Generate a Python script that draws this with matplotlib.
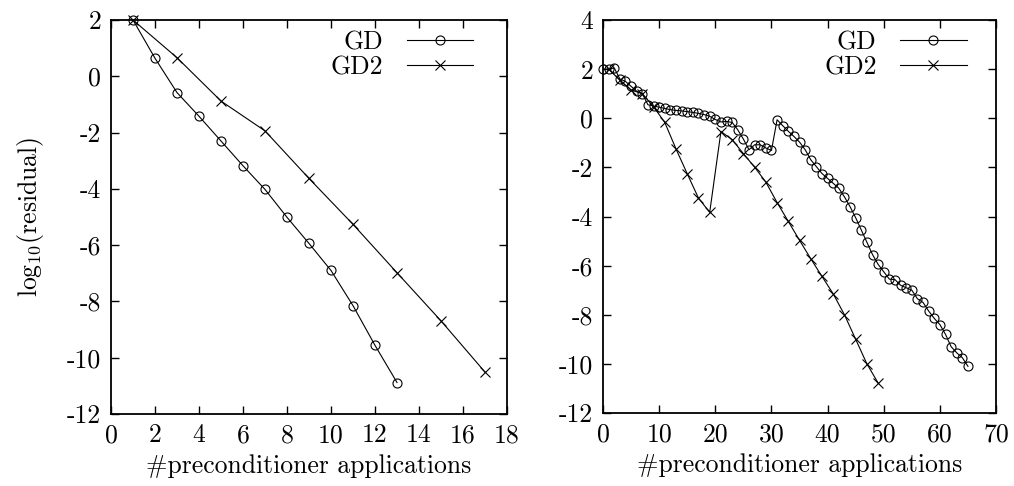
import numpy as np
import matplotlib
matplotlib.use('Agg')
import matplotlib.pyplot as plt

plt.rcParams['font.family'] = 'cmr10'
plt.rcParams['mathtext.fontset'] = 'cm'
plt.rcParams['axes.unicode_minus'] = False
plt.rcParams['axes.formatter.use_mathtext'] = False

# left panel
gd_x_l = list(range(1, 14))
gd_y_l = [2.0, 0.64, -0.58, -1.42, -2.30, -3.18, -4.02, -5.01, -5.94, -6.90, -8.15, -9.56, -10.88]
gd2_x_l = [1, 3, 5, 7, 9, 11, 13, 15, 17]
gd2_y_l = [2.0, 0.66, -0.88, -1.94, -3.63, -5.26, -6.98, -8.69, -10.51]

# right panel
gd_x_r = list(range(0, 66))
gd_y_r = [2.0, 2.0, 2.05, 1.6, 1.5, 1.3, 1.1, 1.0, 0.55, 0.5,
          0.45, 0.4, 0.35, 0.32, 0.3, 0.27, 0.24, 0.2, 0.15, 0.08,
          -0.05, -0.15, -0.13, -0.17, -0.47, -0.85, -1.28, -1.08, -1.08, -1.21,
          -1.31, -0.06, -0.3, -0.53, -0.74, -0.97, -1.28, -1.69, -1.97, -2.25,
          -2.45, -2.65, -2.85, -3.2, -3.6, -4.05, -4.55, -5.05, -5.55, -5.95,
          -6.25, -6.55, -6.57, -6.8, -6.9, -7.0, -7.35, -7.5, -7.85, -8.15,
          -8.4, -8.8, -9.3, -9.55, -9.75, -10.1]
gd2_x_r = list(range(1, 50, 2))
gd2_y_r = [2.0, 1.55, 1.15, 1.0, 0.47, -0.17, -1.25, -2.26, -3.25, -3.83,
           -0.54, -0.87, -1.44, -1.99, -2.6, -3.43, -4.2, -4.97, -5.72, -6.44,
           -7.15, -8.0, -9.0, -10.0, -10.78]

fs = 18.5

fig = plt.figure(figsize=(10.14, 4.86), dpi=100)
ax1 = fig.add_axes([0.1095, 0.1481, 0.3905, 0.8107])
ax2 = fig.add_axes([0.5947, 0.1502, 0.3876, 0.8086])


def style(ax, xlim, ylim, xstep, ystep):
    ax.set_xlim(*xlim)
    ax.set_ylim(*ylim)
    ax.set_xticks(np.arange(xlim[0], xlim[1] + 1, xstep))
    ax.set_yticks(np.arange(ylim[0], ylim[1] + 1, ystep))
    ax.tick_params(direction='in', top=True, right=True, length=6, width=1,
                   labelsize=fs, pad=7)
    for s in ax.spines.values():
        s.set_linewidth(1.3)
    ax.set_xlabel('#preconditioner applications', fontsize=fs, labelpad=5)


for ax, (xa, ya, xb, yb), anchor in [
        (ax1, (gd_x_l, gd_y_l, gd2_x_l, gd2_y_l), (0.941, 1.0)),
        (ax2, (gd_x_r, gd_y_r, gd2_x_r, gd2_y_r), (0.951, 1.0))]:
    ax.plot(xa, ya, color='black', lw=0.8, marker='o', ms=6.5, mfc='none',
            mec='black', mew=0.8, label='GD', clip_on=False)
    ax.plot(xb, yb, color='black', lw=0.8, marker='x', ms=7.5,
            mec='black', mew=0.8, label='GD2', clip_on=False)
    leg = ax.legend(loc='upper right', bbox_to_anchor=anchor, frameon=False,
                    markerfirst=False, fontsize=fs, handlelength=2.6,
                    handletextpad=0.9, labelspacing=0.05, borderaxespad=0,
                    numpoints=1)
    leg._legend_handle_box.get_children()[0].align = 'right'

style(ax1, (0, 18), (-12, 2), 2, 2)
style(ax2, (0, 70), (-12, 4), 10, 2)
ax1.set_ylabel(r'$\mathrm{log}_{10}$(residual)', fontsize=fs, labelpad=15)

fig.savefig('out.png', dpi=100)
